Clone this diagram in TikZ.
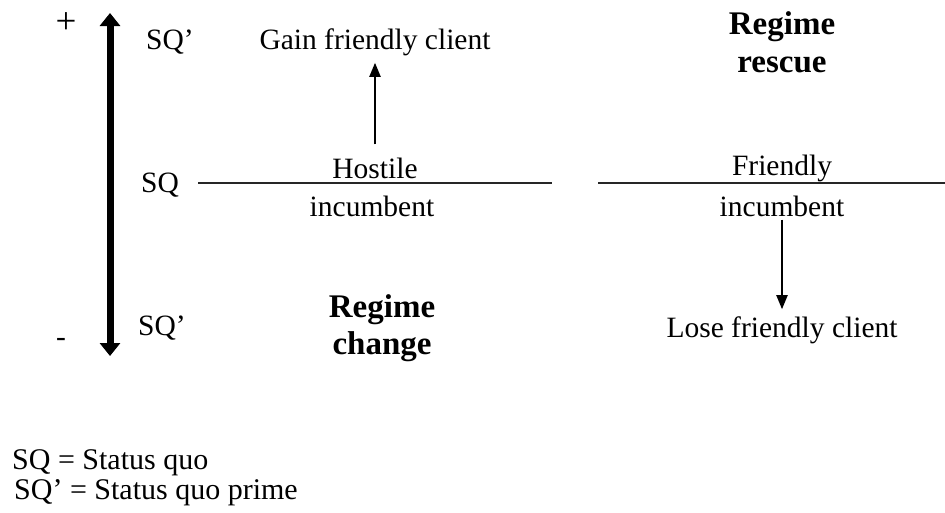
\documentclass[tikz,border=0pt]{standalone}
\usepackage{fontspec}
\setmainfont{Liberation Serif}
\usetikzlibrary{arrows.meta}
\tikzstyle{txt} = [inner sep=0pt, font={\fontsize{29.5}{34}\selectfont}]
\tikzstyle{big} = [inner sep=0pt, font={\fontsize{33}{37.5}\selectfont\bfseries}, align=center]
\tikzstyle{key} = [inner sep=0pt, anchor=west, font={\fontsize{30}{36}\selectfont}]
\tikzstyle{level} = [draw=black!85, line width=2.5pt]
\tikzstyle{move} = [line width=2pt, -{Triangle[width=11pt,length=14pt]}]
\tikzstyle{axis} = [line width=7pt, {Triangle[width=20pt,length=13pt]}-{Triangle[width=20pt,length=13pt]}]

\begin{document}
\begin{tikzpicture}[x=1pt,y=-1pt]
    \useasboundingbox (0,0) rectangle (945,512);
    \node[txt,font={\fontsize{37}{40}\selectfont}](plus) at (66,23){+};
    \node[txt](minus) at (61,342){-};
    \coordinate (top) at (110,13);
    \coordinate (bot) at (110,356);
    \draw[axis](top)--(bot);
    \node[txt](sqhi) at (170,42){SQ’};
    \node[txt](sq) at (160,185){SQ};
    \node[txt](sqlo) at (162,328){SQ’};
    \coordinate (l1a) at (198,183);
    \coordinate (l1b) at (552,183);
    \coordinate (l2a) at (598,183);
    \coordinate (l2b) at (945,183);
    \draw[level](l1a)--(l1b);
    \draw[level](l2a)--(l2b);
    \node[txt](hostile) at (375,168){Hostile};
    \node[txt](inc1) at (372,206){incumbent};
    \node[txt](gain) at (375,42){Gain friendly client};
    \node[txt](friendly) at (782,168){Friendly};
    \node[txt](inc2) at (782,206){incumbent};
    \node[txt](lose) at (782,330){Lose friendly client};
    \node[big](rescue) at (782,42){Regime\\rescue};
    \node[big](change) at (382,328){Regime\\change};
    \node[key](def1) at (12,463){SQ = Status quo};
    \node[key](def2) at (14,493){SQ’ = Status quo prime};
    \draw[move,shorten <=13pt,shorten >=7pt](hostile)--(gain);
    \draw[move,shorten <=3pt,shorten >=7pt](inc2)--(lose);
  \end{tikzpicture}
\end{document}
